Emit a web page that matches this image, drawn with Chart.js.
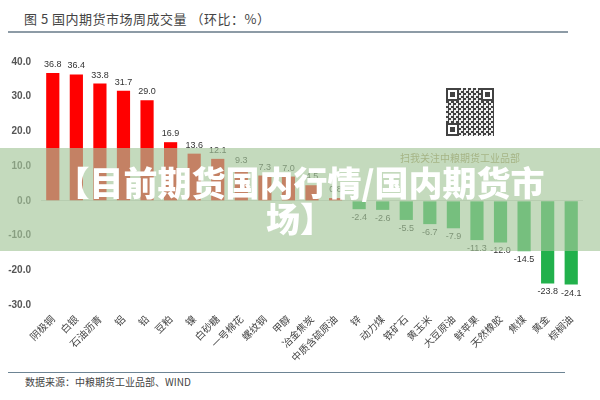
<!DOCTYPE html>
<html>
<head>
<meta charset="utf-8">
<script src="https://cdn.jsdelivr.net/npm/chart.js@4/dist/chart.umd.min.js"></script>
<style>
  html, body { margin: 0; padding: 0; background: #fff; }
  #wrap { position: relative; width: 600px; height: 400px; overflow: hidden; font-family: "Noto Sans CJK SC", sans-serif; }
  #title { position: absolute; left: 24px; top: 9px; font-size: 13px; color: #444; letter-spacing: 0.5px; }
  .rule { position: absolute; left: 8px; height: 2px; background: #8d9ba6; }
  #source { position: absolute; left: 25px; top: 374px; font-size: 10px; color: #444; }
  #chartBox { position: absolute; left: 0; top: 40px; width: 600px; height: 330px; }
  #qr { position: absolute; left: 446px; top: 88px; width: 48px; height: 48px; opacity: 0.85;
        background: conic-gradient(#222 25%, #eee 0 50%, #222 0 75%, #eee 0) 0 0 / 5px 5px; }
  .finder { position: absolute; width: 9px; height: 9px; border: 2px solid #222; background: #fff; }
  .finder::after { content: ''; position: absolute; left: 2px; top: 2px; width: 5px; height: 5px; background: #222; }
  #qrText { position: absolute; left: 400px; top: 150px; font-size: 10px; color: #a8935f; }
  #band { position: absolute; left: 0; top: 148px; width: 600px; height: 103px;
          background: rgba(165, 198, 153, 0.65); z-index: 5; }
  #bandText { position: absolute; left: 0; top: 164px; width: 600px; text-align: center; z-index: 6;
              color: #fff; font-size: 34px; font-weight: 900; line-height: 36px; }
</style>
</head>
<body>
<div id="wrap">
  <div id="title">图 5 国内期货市场周成交量 （环比：%）</div>
  <div class="rule" style="top:31px; width:560px;"></div>
  <div id="chartBox"><canvas id="volChart" width="600" height="330"></canvas></div>
  <div id="qr">
    <div class="finder" style="left:0; top:0;"></div>
    <div class="finder" style="right:0; top:0;"></div>
    <div class="finder" style="left:0; bottom:0;"></div>
  </div>
  <div id="qrText">扫我关注中粮期货工业品部</div>
  <div class="rule" style="top:372px; width:557px; height:1px; background:#6d8494;"></div>
  <div id="source">数据来源：中粮期货工业品部、WIND</div>
  <div id="band"></div>
  <div id="bandText">【目前期货国内行情/国内期货市<br>场】</div>
</div>
<script>
const products = ['阴极铜', '白银', '石油沥青', '铝', '铅', '豆粕', '镍', '白砂糖', '一号棉花', '螺纹钢',
    '甲醇', '冶金焦炭', '中质含硫原油', '锌', '动力煤', '铁矿石', '黄玉米', '大豆原油', '鲜苹果',
    '天然橡胶', '焦煤', '黄金', '棕榈油'];
const weeklyChange = [36.8, 36.4, 33.8, 31.7, 29.0, 16.9, 13.6, 12.1, 9.3, 7.3,
    7.0, 4.5, 0.8, -2.4, -2.6, -5.5, -6.7, -7.9, -11.3,
    -12.0, -14.5, -23.8, -24.1];
const yTicks = [-30, -20, -10, 0, 10, 20, 30, 40];

const valueLabels = {
    id: 'valueLabels',
    afterDatasetsDraw(chart) {
        const ctx = chart.ctx;
        const meta = chart.getDatasetMeta(0);
        ctx.save();
        ctx.font = '9px "Liberation Sans", Arial, sans-serif';
        ctx.fillStyle = '#333';
        ctx.textAlign = 'center';
        meta.data.forEach((bar, i) => {
            const v = weeklyChange[i];
            if (v >= 0) {
                ctx.textBaseline = 'bottom';
                ctx.fillText(v.toFixed(1), bar.x, bar.y - 4);
            } else {
                ctx.textBaseline = 'top';
                ctx.fillText(v.toFixed(1), bar.x, bar.y + 4);
            }
        });
        ctx.restore();
    }
};

const ctx = document.getElementById('volChart').getContext('2d');
new Chart(ctx, {
    type: 'bar',
    data: {
        labels: products,
        datasets: [{
            data: weeklyChange,
            backgroundColor: weeklyChange.map(v => v >= 0 ? '#ff0000' : '#22b14c'),
            barPercentage: 0.56,
            categoryPercentage: 1.0
        }]
    },
    options: {
        responsive: false,
        animation: false,
        layout: { padding: { left: 0, right: 17, top: 22, bottom: 0 } },
        plugins: {
            legend: { display: false },
            tooltip: { enabled: false }
        },
        scales: {
            x: {
                grid: { display: false, drawTicks: false },
                border: { display: false },
                ticks: {
                    minRotation: 45,
                    maxRotation: 45,
                    autoSkip: false,
                    padding: 8,
                    color: '#444',
                    font: { family: '"Noto Sans CJK SC", sans-serif', size: 10 }
                },
                afterFit(scale) { scale.height = 65; }
            },
            y: {
                min: -30,
                max: 40,
                afterBuildTicks(scale) { scale.ticks = yTicks.map(v => ({ value: v })); },
                grid: {
                    drawTicks: false,
                    color: c => c.tick && c.tick.value === 0 ? '#d9d9d9' : 'rgba(0,0,0,0)'
                },
                border: { display: false },
                ticks: {
                    padding: 10,
                    color: '#555',
                    font: { family: '"Liberation Sans", Arial, sans-serif', size: 10, weight: 'bold' },
                    callback: v => v.toFixed(1)
                },
                afterFit(scale) { scale.width = 41; }
            }
        }
    },
    plugins: [valueLabels]
});
</script>
</body>
</html>
